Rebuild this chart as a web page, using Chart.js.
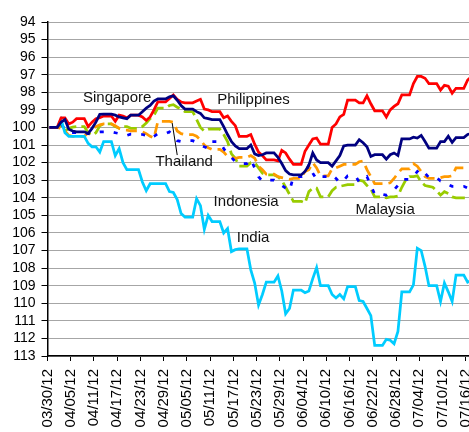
<!DOCTYPE html>
<html lang="en">
<head>
    <meta charset="UTF-8">
    <title>Asian currencies vs USD, indexed 03/30/12 = 100</title>
    <style>
        html, body {
            margin: 0;
            padding: 0;
            background: #fff;
            overflow: hidden;
        }

        .chart-box {
            width: 469px;
            height: 432px;
            position: relative;
        }
    </style>
    <script src="https://cdn.jsdelivr.net/npm/chart.js"></script>
</head>
<body>
    <div class="chart-box">
        <canvas id="fxChart" width="469" height="432"></canvas>
    </div>

    <script>
        // daily index, 03/30/12 .. 07/17/12 (weekends carry Friday's value)
        const firstDay = new Date(2012, 2, 30);
        const dates = [];
        for (let i = 0; i < 110; i++) {
            const d = new Date(2012, 2, 30 + i);
            const mm = String(d.getMonth() + 1).padStart(2, '0');
            const dd = String(d.getDate()).padStart(2, '0');
            dates.push(mm + '/' + dd + '/12');
        }

        const tickLabels = ['03/30/12', '04/05/12', '04/11/12', '04/17/12', '04/23/12', '04/29/12',
            '05/05/12', '05/11/12', '05/17/12', '05/23/12', '05/29/12', '06/04/12', '06/10/12',
            '06/16/12', '06/22/12', '06/28/12', '07/04/12', '07/10/12', '07/16/12'];

        const philippines = [100, 100, 100,
            99.45, 99.45, 99.8, 99.7, 99.5, 99.5, 99.5,
            99.95, 99.7, 99.5, 99.45, 99.35, 99.35, 99.35,
            99.65, 99.3, 99.35, 99.45, 99.3, 99.3, 99.3,
            99.4, 99.6, 99.4, 99.0, 98.55, 98.55, 98.55,
            98.35, 98.15, 98.4, 98.55, 98.6, 98.6, 98.6,
            98.5, 98.4, 98.95, 99.0, 99.1, 99.1, 99.1,
            99.45, 99.35, 99.65, 99.9, 100.5, 100.5, 100.5,
            100.4, 100.95, 101.4, 101.6, 101.85, 101.85, 101.85,
            101.9, 101.3, 101.45, 101.8, 102.1, 102.1, 102.1,
            101.35, 101.0, 100.65, 100.6, 100.95, 100.95, 100.95,
            100.0, 99.8, 99.4, 99.25, 98.45, 98.45, 98.45,
            98.6, 98.6, 98.2, 98.65, 99.05, 99.05, 99.05,
            99.4, 99.0, 98.8, 98.65, 98.15, 98.15, 98.15,
            97.5, 97.1, 97.1, 97.2, 97.5, 97.5, 97.5,
            97.87, 97.6, 97.65, 98.05, 97.77, 97.77, 97.77,
            97.3, 97.1];

        const singapore = [100, 100, 100,
            99.7, 99.55, 100.1, 100.2, 100.25, 100.25, 100.25,
            100.35, 100.05, 99.7, 99.25, 99.24, 99.24, 99.24,
            99.3, 99.4, 99.45, 99.5, 99.3, 99.3, 99.3,
            99.1, 98.9, 98.75, 98.5, 98.38, 98.38, 98.38,
            98.25, 98.2, 98.45, 98.75, 98.95, 98.95, 98.95,
            99.1, 99.2, 99.45, 99.5, 99.55, 99.55, 99.55,
            99.95, 100.4, 100.8, 101.05, 101.2, 101.2, 101.2,
            101.0, 101.5, 101.6, 101.55, 101.45, 101.45, 101.45,
            101.7, 102.05, 102.45, 102.65, 102.7, 102.7, 102.7,
            102.5, 102.15, 101.45, 101.85, 102.0, 102.0, 102.0,
            102.2, 101.9, 101.6, 101.05, 101.0, 101.0, 101.0,
            100.7, 100.87, 101.1, 101.65, 101.55, 101.55, 101.55,
            101.8, 101.55, 101.45, 101.6, 100.65, 100.65, 100.65,
            100.55, 100.6, 100.45, 100.8, 101.18, 101.18, 101.18,
            100.8, 100.8, 100.5, 100.85, 100.58, 100.58, 100.58,
            100.4, 100.35];

        const thailand = [100, 100, 100,
            100.05, 100.2, 100.45, 100.5, 100.5, 100.5, 100.5,
            100.3, 100.1, 99.95, 99.85, 99.8, 99.8, 99.8,
            99.9, 100.05, 100.14, 100.15, 100.2, 100.2, 100.2,
            100.25, 100.35, 100.5, 100.6, 99.65, 99.65, 99.65,
            99.65, 99.7, 100.2, 100.35, 100.4, 100.4, 100.4,
            100.5, 100.7, 101.0, 101.15, 101.25, 101.25, 101.25,
            101.4, 101.65, 101.7, 101.75, 101.7, 101.7, 101.7,
            101.6, 101.75, 102.2, 102.4, 102.65, 102.65, 102.65,
            102.8, 102.85, 102.9, 102.95, 102.9, 102.9, 102.9,
            102.5, 102.4, 102.0, 102.3, 102.75, 102.75, 102.75,
            102.35, 102.3, 102.2, 102.1, 102.1, 102.1, 102.1,
            101.95, 101.9, 102.4, 102.8, 103.2, 103.2, 103.2,
            103.2, 103.15, 102.9, 102.6, 102.35, 102.35, 102.35,
            102.05, 102.2, 102.5, 102.8, 102.9, 102.9, 102.9,
            102.85, 102.8, 102.8, 102.75, 102.3, 102.3, 102.3,
            102.35, 102.4];

        const indonesia = [100, 100, 100,
            99.8, 100.1, 100.3, 100.3, 100.3, 100.3, 100.3,
            100.35, 100.3, 100.3, 100.25, 100.25, 100.25, 100.25,
            100.3, 100.35, 100.4, 100.45, 100.38, 100.38, 100.38,
            100.4, 100.45, 100.6, 100.5, 100.35, 100.35, 100.35,
            100.25, 100.45, 100.75, 100.8, 100.75, 100.75, 100.75,
            100.85, 101.0, 101.1, 101.2, 100.8, 100.8, 100.8,
            101.2, 101.5, 101.7, 101.95, 102.05, 102.05, 102.05,
            101.8, 102.3, 102.8, 103.05, 103.0, 103.0, 103.0,
            103.2, 103.3, 103.45, 103.6, 102.8, 102.8, 102.8,
            102.7, 102.1, 102.6, 102.95, 102.8, 102.8, 102.8,
            102.7, 102.9, 103.15, 103.0, 102.75, 102.75, 102.75,
            103.1, 103.0, 102.8, 103.3, 103.8, 103.8, 103.8,
            103.85, 103.7, 103.55, 103.3, 102.95, 102.95, 102.95,
            102.8, 102.5, 102.35, 102.6, 102.85, 102.85, 102.85,
            103.05, 103.1, 103.25, 103.35, 103.35, 103.35, 103.35,
            103.45, 103.5];

        const malaysia = [100, 100, 100,
            99.9, 100.2, 100.05, 99.98, 99.95, 99.95, 99.95,
            100.3, 100.45, 100.3, 99.9, 99.8, 99.8, 99.8,
            99.95, 100.05, 99.95, 99.95, 100.05, 100.05, 100.05,
            99.95, 99.75, 99.5, 99.3, 98.9, 98.9, 98.9,
            98.75, 98.7, 98.85, 98.95, 99.1, 99.1, 99.1,
            99.55, 100.0, 100.2, 100.1, 100.1, 100.1, 100.1,
            100.4, 100.8, 101.5, 101.75, 102.2, 102.2, 102.2,
            102.0, 102.0, 102.3, 102.6, 102.7, 102.7, 102.7,
            102.8, 103.0, 103.4, 103.8, 104.2, 104.2, 104.2,
            104.3, 103.65, 103.45, 103.45, 103.95, 103.95, 103.95,
            103.6, 103.4, 103.35, 103.3, 103.25, 103.25, 103.25,
            103.0, 103.05, 103.3, 103.5, 103.95, 103.95, 103.95,
            104.0, 103.95, 103.95, 103.9, 103.4, 103.0, 102.8,
            102.8, 102.75, 103.1, 103.3, 103.35, 103.4, 103.6,
            103.85, 103.65, 103.75, 103.95, 104.0, 104.0, 104.0,
            104.0, 104.0];

        const india = [100, 100, 100,
            99.55, 100.3, 100.5, 100.5, 100.5, 100.5, 100.5,
            100.9, 101.1, 101.1, 101.4, 100.8, 100.8, 100.8,
            101.6, 101.2, 102.0, 102.4, 102.4, 102.4, 102.4,
            103.1, 103.6, 103.2, 103.2, 103.2, 103.2, 103.2,
            103.65, 103.7, 104.1, 104.9, 105.1, 105.1, 105.1,
            104.05, 104.45, 105.8, 105.0, 105.35, 105.35, 105.35,
            106.0, 105.75, 107.06, 106.95, 106.9, 106.9, 106.9,
            108.1, 108.85, 110.1, 109.5, 108.8, 108.8, 108.8,
            108.45, 109.3, 110.6, 110.3, 109.25, 109.25, 109.25,
            109.4, 109.3, 108.6, 107.97, 109.0, 109.0, 109.0,
            109.5, 109.7, 109.5, 109.75, 109.05, 109.05, 109.05,
            109.85, 109.9, 110.3, 110.7, 112.4, 112.4, 112.4,
            112.05, 112.1, 112.3, 111.6, 109.35, 109.35, 109.35,
            108.95, 106.87, 107.0, 107.9, 109.0, 109.0, 109.0,
            109.9, 108.85, 109.35, 109.9, 108.4, 108.4, 108.4,
            108.8, 108.7];

        // names written on the plot, placed in (day, index) units
        const seriesNotes = [
            { text: 'Singapore', day: 18.0, value: 98.29 },
            { text: 'Philippines', day: 53.2, value: 98.44 },
            { text: 'Thailand', day: 35.3, value: 101.96 },
            { text: 'Indonesia', day: 51.3, value: 104.24 },
            { text: 'Malaysia', day: 87.2, value: 104.69 },
            { text: 'India', day: 53.1, value: 106.29 }
        ];
        const thailandPointer = { from: [32.2, 99.75], to: [33.5, 101.57] };

        const FONT = "'Liberation Sans', Arial, sans-serif";

        // each day sits in the middle of its slot on the date axis
        function toPoints(values) {
            return values.map((v, i) => ({ x: i + 0.5, y: v }));
        }

        const notesPlugin = {
            id: 'seriesNotes',
            afterDatasetsDraw(chart) {
                const { ctx, scales: { x, y } } = chart;
                ctx.save();
                ctx.strokeStyle = '#000';
                ctx.lineWidth = 1;
                ctx.beginPath();
                ctx.moveTo(x.getPixelForValue(thailandPointer.from[0]), y.getPixelForValue(thailandPointer.from[1]));
                ctx.lineTo(x.getPixelForValue(thailandPointer.to[0]), y.getPixelForValue(thailandPointer.to[1]));
                ctx.stroke();

                ctx.font = '15px ' + FONT;
                ctx.fillStyle = '#111';
                ctx.textAlign = 'center';
                ctx.textBaseline = 'middle';
                seriesNotes.forEach(n => {
                    ctx.fillText(n.text, x.getPixelForValue(n.day), y.getPixelForValue(n.value));
                });
                ctx.restore();
            }
        };

        function lineSet(label, values, color, dash) {
            return {
                label: label,
                data: toPoints(values),
                borderColor: color,
                backgroundColor: color,
                borderWidth: 2.75,
                borderDash: dash || [],
                pointRadius: 0,
                tension: 0,
                fill: false
            };
        }

        const ctx = document.getElementById('fxChart').getContext('2d');

        new Chart(ctx, {
            type: 'line',
            data: {
                datasets: [
                    lineSet('Singapore', singapore, '#000080'),
                    lineSet('Philippines', philippines, '#ff0000'),
                    lineSet('India', india, '#00ccff'),
                    lineSet('Indonesia', indonesia, '#0000ff', [4, 10]),
                    lineSet('Thailand', thailand, '#ff9900', [11, 6]),
                    lineSet('Malaysia', malaysia, '#99cc00', [13, 5])
                ]
            },
            options: {
                responsive: false,
                animation: false,
                layout: {
                    padding: { top: 22, right: 0, bottom: 0, left: 0 }
                },
                plugins: {
                    legend: { display: false },
                    tooltip: { enabled: false }
                },
                scales: {
                    x: {
                        type: 'linear',
                        min: 0,
                        max: 108.85,
                        afterBuildTicks: s => {
                            s.ticks = tickLabels.map((t, i) => ({ value: i * 6 }));
                        },
                        afterFit: s => {
                            s.paddingLeft = 0;
                            s.paddingRight = 0;
                            s.height = 76;
                        },
                        ticks: {
                            autoSkip: false,
                            minRotation: 90,
                            maxRotation: 90,
                            padding: 8,
                            color: '#000',
                            font: { family: FONT, size: 15 },
                            callback: (value, index) => tickLabels[index]
                        },
                        grid: {
                            drawOnChartArea: false,
                            tickLength: 5,
                            tickColor: '#000',
                            tickWidth: 1
                        },
                        border: { color: '#000', width: 1.5 }
                    },
                    y: {
                        reverse: true,
                        min: 94,
                        max: 113,
                        afterFit: s => {
                            s.width = 47.5;
                            s.paddingTop = 0;
                            s.paddingBottom = 0;
                        },
                        ticks: {
                            stepSize: 1,
                            autoSkip: false,
                            padding: 6,
                            color: '#000',
                            font: { family: FONT, size: 14 }
                        },
                        grid: {
                            color: '#a6a6a6',
                            lineWidth: 1,
                            tickColor: '#000',
                            tickLength: 6
                        },
                        border: { color: '#000', width: 1.5 }
                    }
                }
            },
            plugins: [notesPlugin]
        });
    </script>
</body>
</html>
